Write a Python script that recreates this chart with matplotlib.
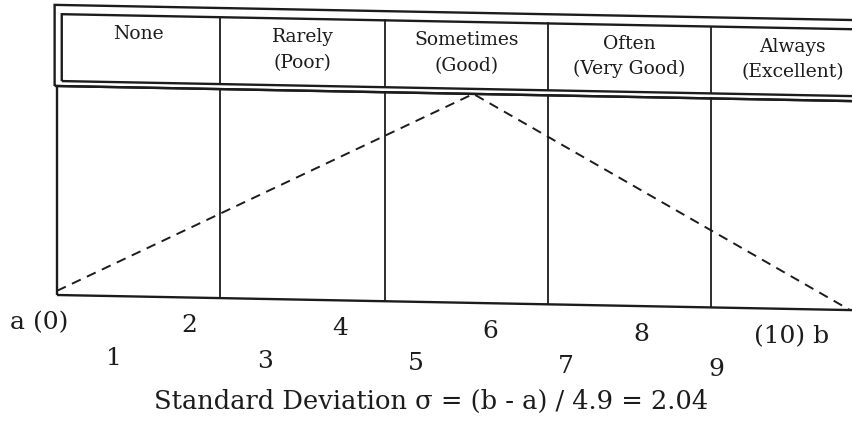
import matplotlib

matplotlib.use("Agg")

import numpy as np
import matplotlib.pyplot as plt
from matplotlib.patches import Rectangle
from matplotlib.transforms import Affine2D, blended_transform_factory


# frequency scale, columns of the rating table
categories = ["None", "Rarely", "Sometimes", "Often", "Always"]
ratings = ["", "(Poor)", "(Good)", "(Very Good)", "(Excellent)"]
col_edges = [0.0, 2.06, 4.13, 6.19, 8.25, 10.3]

# triangular distribution a=0, mode, b=10
tri_x = [0.0, 5.25, 10.0]
tri_y = [0.02, 1.0, 0.0]

tick_values = list(range(11))
tick_labels = ["a (0)", "1", "2", "3", "4", "5", "6", "7", "8", "9", "(10) b"]
sigma_text = "Standard Deviation \u03c3 = (b - a) / 4.9 = 2.04"

INK = "#1c1c1c"
SERIF = ["DejaVu Serif"]

fig = plt.figure(figsize=(8.53, 4.29), dpi=100)
fig.patch.set_facecolor("white")

ax = fig.add_axes([0, 0, 1, 1])
ax.set_xlim(-57 / 79.3, (853 - 57) / 79.3)
ax.set_ylim(-(429 - 295) / 209, 295 / 209)
ax.axis("off")

# separate scale for the hand-placed number labels under the frame
lab = fig.add_axes([0, 0, 1, 1], frameon=False)
lab.set_xlim(-39 / 75.3, (853 - 39) / 75.3)
lab.set_ylim(ax.get_ylim())
lab.axis("off")

# the scanned page sits a little skewed: right side lower than left
slope = 0.019
shear = Affine2D(np.array([[1.0, 0.0, 0.0], [-slope, 1.0, slope * 57], [0.0, 0.0, 1.0]]))
tr = ax.transData + shear

left, right = col_edges[0], col_edges[-1]

# lower frame and column dividers
ax.add_patch(Rectangle((left, 0), right - left, 1.0, fill=False, ec=INK, lw=1.7, transform=tr))
for xe in col_edges[1:-1]:
    ax.plot([xe, xe], [0, 1.0], color=INK, lw=1.3, transform=tr)

# header: double border box
ax.add_patch(Rectangle((left - 0.03, 1.0), right - left + 0.06, 0.388, fill=False, ec=INK,
                       lw=1.7, transform=tr))
ax.add_patch(Rectangle((left + 0.06, 1.024), right - left - 0.12, 0.32, fill=False, ec=INK,
                       lw=1.7, transform=tr))
for xe in col_edges[1:-1]:
    ax.plot([xe, xe], [1.024, 1.344], color=INK, lw=1.3, transform=tr)

for i, (cat, rate) in enumerate(zip(categories, ratings)):
    xc = (col_edges[i] + col_edges[i + 1]) / 2
    ax.text(xc, 1.255, cat, ha="center", va="center", fontsize=13.5,
            family=SERIF, color=INK, transform=tr)
    if rate:
        ax.text(xc, 1.133, rate, ha="center", va="center", fontsize=13.5,
                family=SERIF, color=INK, transform=tr)

# triangular distribution
ax.plot(tri_x, tri_y, color=INK, lw=1.4, linestyle=(0, (5, 3.5)), transform=tr)

# number labels: even on first row, odd on second
trans = blended_transform_factory(lab.transData, ax.transData) + shear
for v, t in zip(tick_values, tick_labels):
    y = -0.134 if v % 2 == 0 else -0.297
    ax.text(v, y, t, transform=trans, ha="center", va="center", fontsize=18,
            family=SERIF, color=INK)

fig.text(0.505, (429 - 401) / 429, sigma_text, ha="center", va="center", fontsize=18.5,
         family=SERIF, color=INK)

fig.savefig("out.png", dpi=100, facecolor="white")
